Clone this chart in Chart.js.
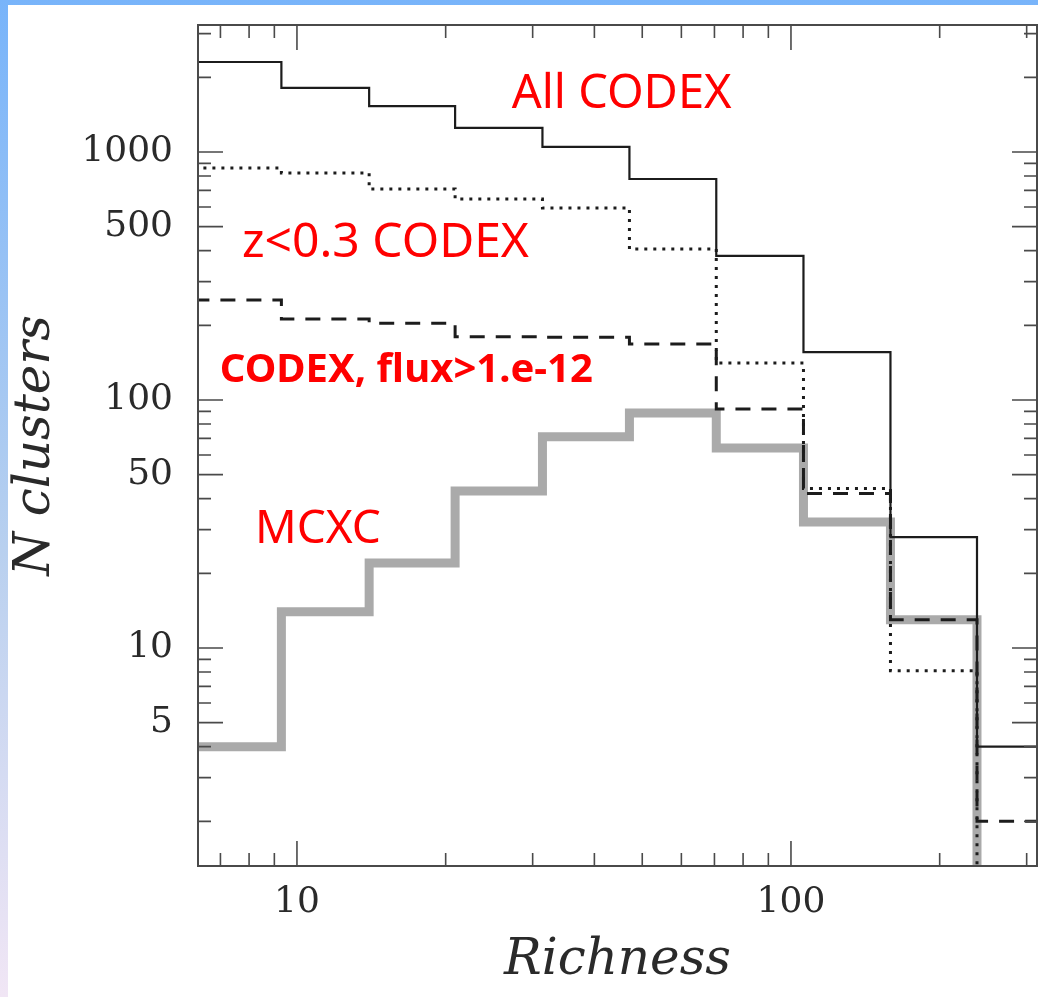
<!DOCTYPE html>
<html>
<head>
<meta charset="utf-8">
<script src="https://cdn.jsdelivr.net/npm/chart.js@4/dist/chart.umd.min.js"></script>
<style>
    html, body { margin: 0; padding: 0; }
    body {
        width: 1038px; height: 997px; position: relative; overflow: hidden;
        background: linear-gradient(to bottom, #78b4fa 0%, #b8d0ef 55%, #f1e6f5 100%);
    }
    #panel { position: absolute; left: 8px; top: 5px; right: 0; bottom: 0; background: #fff; }
    #chart { position: absolute; left: 0; top: 0; }
</style>
</head>
<body>
<div id="panel"></div>
<canvas id="chart" width="1038" height="997"></canvas>
<script>
// bin edges in richness (log spaced)
var binEdges = [6.2, 9.3, 14, 20.9, 31.4, 47.1, 70.6, 106, 159, 238, 357];

// counts per bin, one value per bin
var allCodex  = [2306, 1812, 1532, 1250, 1048, 778, 381, 156, 28, 4];
var lowzCodex = [862, 823, 709, 646, 595, 406, 141, 44, 8.1, 0];
var fluxCodex = [253, 212, 204, 180, 179, 168, 92, 42, 13, 2];
var mcxc      = [4, 14, 22, 43, 71, 88.6, 64, 32.2, 13, 0];

var xTickLabels = [10, 100];
var xMinorTicks = [7, 8, 9, 20, 30, 40, 50, 60, 70, 80, 90, 200, 300];
var yTickLabels = [5, 10, 50, 100, 500, 1000];
var yMinorTicks = [2, 3, 4, 6, 7, 8, 9, 20, 30, 40, 60, 70, 80, 90, 200, 300, 400, 600, 700, 800, 900, 2000, 3000];

var X_MIN = 6.305, X_MAX = 314.8;
var Y_MIN = 1.321, Y_MAX = 3251;

var SERIF = '"DejaVu Serif", serif';
var SANS = '"Noto Sans", sans-serif';

// turn bin counts into points for a stepped line (an empty bin drops to the axis and stops)
function stepPoints(values) {
    var pts = [];
    for (var i = 0; i < values.length; i++) {
        pts.push({ x: binEdges[i], y: Math.max(values[i], Y_MIN) });
    }
    var last = values[values.length - 1];
    if (last > 0) {
        pts.push({ x: binEdges[values.length], y: last });
    }
    return pts;
}

var notes = [
    { text: 'All CODEX', x: 27.2, y: 1503, font: '47px ' + SANS },
    { text: 'z<0.3 CODEX', x: 7.74, y: 378, font: '48px ' + SANS },
    { text: 'CODEX, flux>1.e-12', x: 6.98, y: 118, font: 'bold 40px ' + SANS },
    { text: 'MCXC', x: 8.22, y: 26.5, font: '46px ' + SANS }
];

var frameTicks = {
    id: 'frameTicks',
    afterDatasetsDraw: function (chart) {
        var ctx = chart.ctx;
        var area = chart.chartArea;
        var xs = chart.scales.x;
        var ys = chart.scales.y;

        ctx.save();
        ctx.strokeStyle = '#4a4a4a';
        ctx.lineWidth = 2;
        ctx.strokeRect(area.left, area.top, area.right - area.left, area.bottom - area.top);

        ctx.lineWidth = 1.6;
        ctx.beginPath();
        var drawX = function (v, len) {
            var px = xs.getPixelForValue(v);
            ctx.moveTo(px, area.bottom); ctx.lineTo(px, area.bottom - len);
            ctx.moveTo(px, area.top); ctx.lineTo(px, area.top + len);
        };
        var drawY = function (v, len) {
            var py = ys.getPixelForValue(v);
            ctx.moveTo(area.left, py); ctx.lineTo(area.left + len, py);
            ctx.moveTo(area.right, py); ctx.lineTo(area.right - len, py);
        };
        xTickLabels.forEach(function (v) { drawX(v, 25); });
        xMinorTicks.forEach(function (v) { drawX(v, 13); });
        yTickLabels.forEach(function (v) { drawY(v, 25); });
        yMinorTicks.forEach(function (v) { drawY(v, 13); });
        ctx.stroke();

        // red labels
        ctx.fillStyle = '#ff0000';
        ctx.textAlign = 'left';
        ctx.textBaseline = 'alphabetic';
        notes.forEach(function (n) {
            ctx.font = n.font;
            ctx.fillText(n.text, xs.getPixelForValue(n.x), ys.getPixelForValue(n.y));
        });
        ctx.restore();
    }
};

function lineSet(label, values, color, width, dash, order) {
    return {
        label: label,
        data: stepPoints(values),
        stepped: 'before',
        borderColor: color,
        borderWidth: width,
        borderDash: dash,
        borderCapStyle: 'butt',
        borderJoinStyle: 'miter',
        pointRadius: 0,
        fill: false,
        clip: 0,
        order: order
    };
}

function noPadding(scale) {
    scale.paddingTop = 0;
    scale.paddingBottom = 0;
    scale.paddingLeft = 0;
    scale.paddingRight = 0;
}

var chart = new Chart(document.getElementById('chart').getContext('2d'), {
    type: 'line',
    data: {
        datasets: [
            lineSet('All CODEX', allCodex, '#1c1c1c', 2.2, [], 1),
            lineSet('z<0.3 CODEX', lowzCodex, '#1c1c1c', 3, [3, 6], 2),
            lineSet('CODEX, flux>1.e-12', fluxCodex, '#1c1c1c', 3, [15, 11], 3),
            lineSet('MCXC', mcxc, '#aaaaaa', 9, [], 4)
        ]
    },
    options: {
        responsive: false,
        animation: false,
        devicePixelRatio: 1,
        layout: { padding: { left: 0, top: 25, right: 1, bottom: 0 } },
        plugins: { legend: { display: false }, tooltip: { enabled: false } },
        scales: {
            x: {
                type: 'logarithmic',
                min: X_MIN,
                max: X_MAX,
                grid: { display: false, drawTicks: false },
                border: { display: false },
                afterBuildTicks: function (scale) {
                    scale.ticks = xTickLabels.map(function (v) { return { value: v }; });
                },
                afterFit: function (scale) { scale.height = 131; noPadding(scale); },
                ticks: {
                    autoSkip: false,
                    maxRotation: 0,
                    padding: 15,
                    color: '#2a2a2a',
                    font: { family: SERIF, size: 36 },
                    callback: function (v) { return String(v); }
                },
                title: {
                    display: true,
                    text: 'Richness',
                    color: '#2a2a2a',
                    padding: { top: 0, bottom: 6 },
                    font: { family: SERIF, size: 50, style: 'italic' }
                }
            },
            y: {
                type: 'logarithmic',
                min: Y_MIN,
                max: Y_MAX,
                grid: { display: false, drawTicks: false },
                border: { display: false },
                afterBuildTicks: function (scale) {
                    scale.ticks = yTickLabels.map(function (v) { return { value: v }; });
                },
                afterFit: function (scale) { scale.width = 198; noPadding(scale); },
                ticks: {
                    autoSkip: false,
                    padding: 25,
                    color: '#2a2a2a',
                    font: { family: SERIF, size: 36 },
                    callback: function (v) { return String(v); }
                },
                title: {
                    display: true,
                    text: 'N clusters',
                    color: '#2a2a2a',
                    padding: { top: 6, bottom: 0 },
                    font: { family: SERIF, size: 50, style: 'italic' }
                }
            }
        }
    },
    plugins: [frameTicks]
});
</script>
</body>
</html>
